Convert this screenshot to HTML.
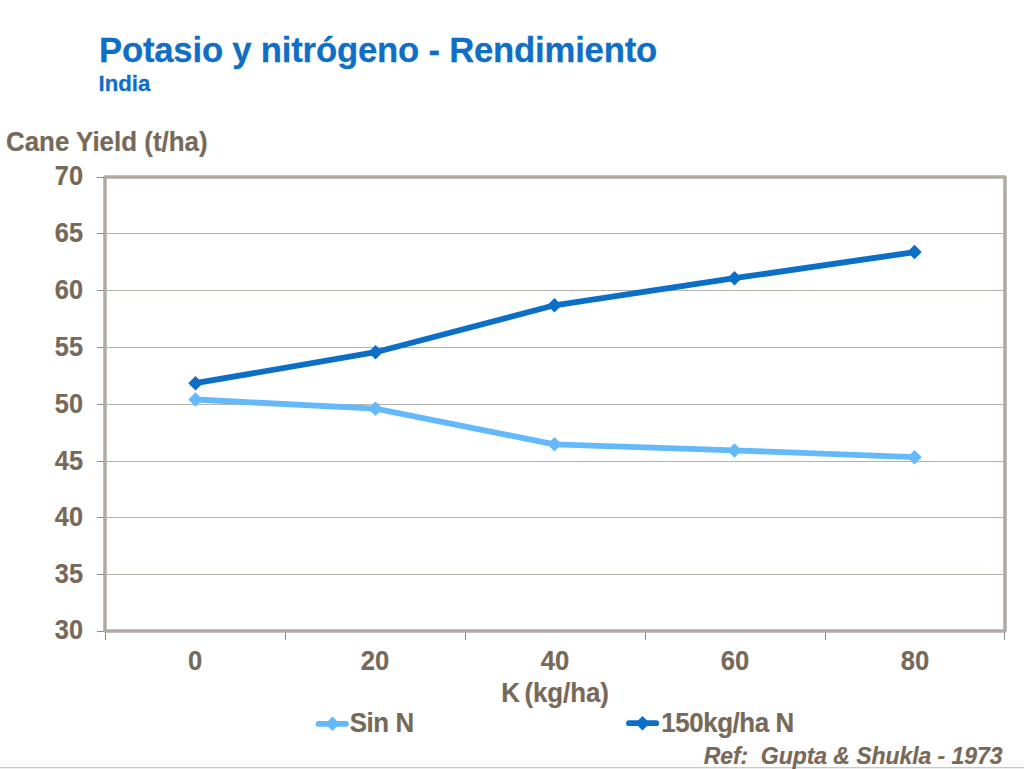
<!DOCTYPE html>
<html>
<head>
<meta charset="utf-8">
<style>
html,body{margin:0;padding:0;background:#fff;}
body{width:1024px;height:769px;position:relative;overflow:hidden;font-family:"Liberation Sans",Arial,sans-serif;}
svg{position:absolute;left:0;top:0;}
svg text{font-family:"Liberation Sans",Arial,sans-serif;font-weight:bold;fill:#776959;stroke:#776959;stroke-width:0.2px;}
svg .b text{fill:#0F6FC6;stroke:#0F6FC6;stroke-width:0.25px;}
</style>
</head>
<body>
<svg width="1024" height="769" viewBox="0 0 1024 769">
  <g class="b"><text transform="translate(99,61.9) scale(1,1.03)" font-size="34.67" letter-spacing="-0.19">Potasio y nitrógeno - Rendimiento</text>
  <text transform="translate(98.5,91.2) scale(1,1.02)" font-size="22.2">India</text></g>
  <g stroke="#B4B3AB" stroke-width="1"><line x1="97" y1="233.5" x2="1005" y2="233.5"/><line x1="97" y1="290.5" x2="1005" y2="290.5"/><line x1="97" y1="347.5" x2="1005" y2="347.5"/><line x1="97" y1="404.5" x2="1005" y2="404.5"/><line x1="97" y1="461.5" x2="1005" y2="461.5"/><line x1="97" y1="517.5" x2="1005" y2="517.5"/><line x1="97" y1="574.5" x2="1005" y2="574.5"/></g>
  <g stroke="#8C8C8C" stroke-width="1"><line x1="105.5" y1="631" x2="105.5" y2="640"/><line x1="285.5" y1="631" x2="285.5" y2="640"/><line x1="465.5" y1="631" x2="465.5" y2="640"/><line x1="645.5" y1="631" x2="645.5" y2="640"/><line x1="825.5" y1="631" x2="825.5" y2="640"/><line x1="1004.5" y1="631" x2="1004.5" y2="640"/></g>
  <rect x="105" y="177" width="900" height="454" fill="none" stroke="#B0AAA2" stroke-width="3.5" stroke-linejoin="round"/>
  <g stroke="#8C8C8C" stroke-width="1"><line x1="97" y1="177.5" x2="104" y2="177.5"/><line x1="97" y1="233.5" x2="104" y2="233.5"/><line x1="97" y1="290.5" x2="104" y2="290.5"/><line x1="97" y1="347.5" x2="104" y2="347.5"/><line x1="97" y1="404.5" x2="104" y2="404.5"/><line x1="97" y1="461.5" x2="104" y2="461.5"/><line x1="97" y1="517.5" x2="104" y2="517.5"/><line x1="97" y1="574.5" x2="104" y2="574.5"/><line x1="97" y1="631.5" x2="104" y2="631.5"/></g>
  <g><text transform="translate(83,185) scale(0.95,1.06)" font-size="26.67" text-anchor="end">70</text><text transform="translate(83,241.5) scale(0.95,1.06)" font-size="26.67" text-anchor="end">65</text><text transform="translate(83,298.5) scale(0.95,1.06)" font-size="26.67" text-anchor="end">60</text><text transform="translate(83,355.5) scale(0.95,1.06)" font-size="26.67" text-anchor="end">55</text><text transform="translate(83,412.5) scale(0.95,1.06)" font-size="26.67" text-anchor="end">50</text><text transform="translate(83,469.5) scale(0.95,1.06)" font-size="26.67" text-anchor="end">45</text><text transform="translate(83,525.75) scale(0.95,1.06)" font-size="26.67" text-anchor="end">40</text><text transform="translate(83,582.5) scale(0.95,1.06)" font-size="26.67" text-anchor="end">35</text><text transform="translate(83,639) scale(0.95,1.06)" font-size="26.67" text-anchor="end">30</text></g>
  <g><text transform="translate(195,670) scale(0.96,1.06)" font-size="26.67" text-anchor="middle">0</text><text transform="translate(375,670) scale(0.96,1.06)" font-size="26.67" text-anchor="middle">20</text><text transform="translate(555,670) scale(0.96,1.06)" font-size="26.67" text-anchor="middle">40</text><text transform="translate(735,670) scale(0.96,1.06)" font-size="26.67" text-anchor="middle">60</text><text transform="translate(915,670) scale(0.96,1.06)" font-size="26.67" text-anchor="middle">80</text></g>
  <text transform="translate(555,702) scale(0.97,1.06)" font-size="26.67" text-anchor="middle" letter-spacing="-0.05" word-spacing="-2.5">K (kg/ha)</text>
  <text transform="translate(6,151) scale(0.972,1.06)" font-size="26.67">Cane Yield (t/ha)</text>
  <polyline fill="none" stroke="#64B9FB" stroke-width="5.8" stroke-linejoin="round" stroke-linecap="round" points="195.5,399.5 375.5,408.7 554.5,444.3 734.5,450.4 914.5,457.2"/>
  <g fill="#64B9FB"><path d="M195.5,392.25 l7.25,7.25 l-7.25,7.25 l-7.25,-7.25z"/><path d="M375.5,401.45 l7.25,7.25 l-7.25,7.25 l-7.25,-7.25z"/><path d="M554.5,437.05 l7.25,7.25 l-7.25,7.25 l-7.25,-7.25z"/><path d="M734.5,443.15 l7.25,7.25 l-7.25,7.25 l-7.25,-7.25z"/><path d="M914.5,449.95 l7.25,7.25 l-7.25,7.25 l-7.25,-7.25z"/></g>
  <polyline fill="none" stroke="#0B6FC8" stroke-width="5.8" stroke-linejoin="round" stroke-linecap="round" points="195.5,383.2 375.5,352.2 554.5,305.3 734.5,278.2 914.5,252.1"/>
  <g fill="#0B6FC8"><path d="M195.5,375.95 l7.25,7.25 l-7.25,7.25 l-7.25,-7.25z"/><path d="M375.5,344.95 l7.25,7.25 l-7.25,7.25 l-7.25,-7.25z"/><path d="M554.5,298.05 l7.25,7.25 l-7.25,7.25 l-7.25,-7.25z"/><path d="M734.5,270.95 l7.25,7.25 l-7.25,7.25 l-7.25,-7.25z"/><path d="M914.5,244.85 l7.25,7.25 l-7.25,7.25 l-7.25,-7.25z"/></g>
  <line x1="318.5" y1="723.8" x2="346" y2="723.8" stroke="#64B9FB" stroke-width="5.8" stroke-linecap="round"/>
  <g fill="#64B9FB"><path d="M332.5,716.55 l7.25,7.25 l-7.25,7.25 l-7.25,-7.25z"/></g>
  <text transform="translate(349.8,732) scale(0.97,1.06)" font-size="26.67" letter-spacing="-0.47">Sin N</text>
  <line x1="629" y1="723.2" x2="656.2" y2="723.2" stroke="#0B6FC8" stroke-width="5.8" stroke-linecap="round"/>
  <g fill="#0B6FC8"><path d="M642.5,715.95 l7.25,7.25 l-7.25,7.25 l-7.25,-7.25z"/></g>
  <text transform="translate(661.2,732) scale(0.97,1.06)" font-size="26.67" letter-spacing="-0.4">150kg/ha N</text>
  <line x1="0" y1="761.5" x2="1024" y2="761.5" stroke="#F7F7F7" stroke-width="1"/>
  <line x1="0" y1="763.5" x2="1024" y2="763.5" stroke="#F9F9F9" stroke-width="1"/>
  <line x1="0" y1="767.5" x2="1024" y2="767.5" stroke="#C8C8C8" stroke-width="1"/>
  <line x1="0" y1="768.5" x2="1024" y2="768.5" stroke="#EFEFEF" stroke-width="1"/>
  <text transform="translate(1002.5,763.8) scale(1,1.02)" font-size="23" text-anchor="end" letter-spacing="-0.05" font-style="italic" xml:space="preserve">Ref:  Gupta &amp; Shukla - 1973</text>
</svg>
</body>
</html>
